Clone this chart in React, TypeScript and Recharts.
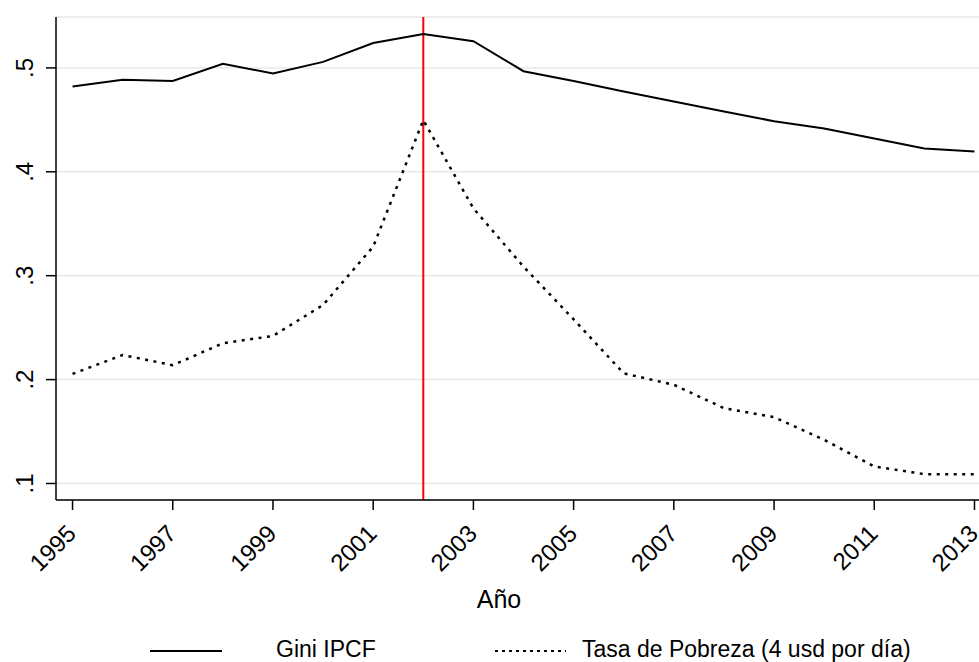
import React from 'react';
import { LineChart, Line, XAxis, YAxis, CartesianGrid, ReferenceLine, Legend } from 'recharts';

const years = [1995, 1996, 1997, 1998, 1999, 2000, 2001, 2002, 2003, 2004, 2005, 2006, 2007, 2008, 2009, 2010, 2011, 2012, 2013];
const gini = [0.482, 0.4885, 0.4875, 0.504, 0.4946, 0.5058, 0.524, 0.5327, 0.5257, 0.4968, 0.4875, 0.4773, 0.4677, 0.458, 0.4487, 0.4417, 0.432, 0.4225, 0.4196];
const pobreza = [0.2055, 0.2237, 0.2138, 0.235, 0.242, 0.2718, 0.328, 0.4497, 0.3648, 0.3087, 0.258, 0.206, 0.195, 0.1725, 0.1638, 0.142, 0.1163, 0.109, 0.109];
const xTicks = [1995, 1997, 1999, 2001, 2003, 2005, 2007, 2009, 2011, 2013];
const yTicks = [0.1, 0.2, 0.3, 0.4, 0.5];
const yTickLabels = ['.1', '.2', '.3', '.4', '.5'];
const crisisYear = 2002;
const seriesNames = ['Gini IPCF', 'Tasa de Pobreza (4 usd por día)'];

const data = years.map((year, i) => ({ year, gini: gini[i], pobreza: pobreza[i] }));

const FONT = '"Liberation Sans", Arial, Helvetica, sans-serif';

const XTick = (props: any) => {
  const { x, y, payload } = props;
  const ax = x + 5;
  const ay = y + 23;
  return (
    <text x={ax} y={ay} transform={`rotate(-45 ${ax} ${ay})`} textAnchor="end" fontSize={24} fontFamily={FONT} fill="#000">
      {payload.value}
    </text>
  );
};

const YTick = (props: any) => {
  const { y, payload } = props;
  const idx = yTicks.indexOf(payload.value);
  const label = idx >= 0 ? yTickLabels[idx] : String(payload.value);
  const ax = 33;
  return (
    <text x={ax} y={y} transform={`rotate(-90 ${ax} ${y})`} textAnchor="middle" fontSize={24} fontFamily={FONT} fill="#000">
      {label}
    </text>
  );
};

const XLabel = (props: any) => {
  const { viewBox } = props;
  return (
    <text x={viewBox.x + 443} y={viewBox.y + 108} textAnchor="middle" fontSize={25} fontFamily={FONT} fill="#000">
      Año
    </text>
  );
};

const LegendContent = () => (
  <div style={{ position: 'relative', width: 979, height: 40, fontFamily: FONT, color: '#000' }}>
    <svg width={979} height={40} style={{ position: 'absolute', left: 0, top: 0, overflow: 'visible' }}>
      <line x1={150} x2={222} y1={29} y2={29} stroke="#000" strokeWidth={2} />
      <line x1={495} x2={566} y1={29} y2={29} stroke="#000" strokeWidth={2.2} strokeDasharray="3 4" />
      <text x={276} y={35} fontSize={23} fontFamily={FONT} fill="#000">{seriesNames[0]}</text>
      <text x={582} y={35} fontSize={23} fontFamily={FONT} fill="#000">{seriesNames[1]}</text>
    </svg>
  </div>
);

export default function App() {
  return (
    <div style={{ position: 'absolute', left: 0, top: 0, width: 979, height: 662, background: '#fff' }}>
      <LineChart width={979} height={662} data={data} margin={{ top: 17, right: 0, left: 0, bottom: 0 }}>
        <CartesianGrid vertical={false} stroke="#e8e8e8" strokeWidth={1.5} />
        <XAxis
          dataKey="year"
          type="number"
          domain={[1994.67, 2013.09]}
          ticks={xTicks}
          allowDataOverflow
          height={122}
          tickSize={10}
          stroke="#000"
          strokeWidth={1.5}
          tick={<XTick />}
          interval={0}
          label={<XLabel />}
        />
        <YAxis
          type="number"
          domain={[0.0841, 0.549]}
          ticks={yTicks}
          allowDataOverflow
          width={56}
          tickSize={10}
          stroke="#000"
          strokeWidth={1.5}
          tick={<YTick />}
          interval={0}
        />
        <ReferenceLine x={crisisYear} stroke="#ff0000" strokeWidth={2} />
        <Line type="linear" dataKey="gini" name={seriesNames[0]} stroke="#000" strokeWidth={2} dot={false} isAnimationActive={false} />
        <Line type="linear" dataKey="pobreza" name={seriesNames[1]} stroke="#000" strokeWidth={2.5} strokeDasharray="3 5.5" dot={false} isAnimationActive={false} />
        <Legend
          verticalAlign="bottom"
          content={<LegendContent />}
          wrapperStyle={{ left: 0, top: 622, width: 979, height: 40 }}
        />
      </LineChart>
    </div>
  );
}
